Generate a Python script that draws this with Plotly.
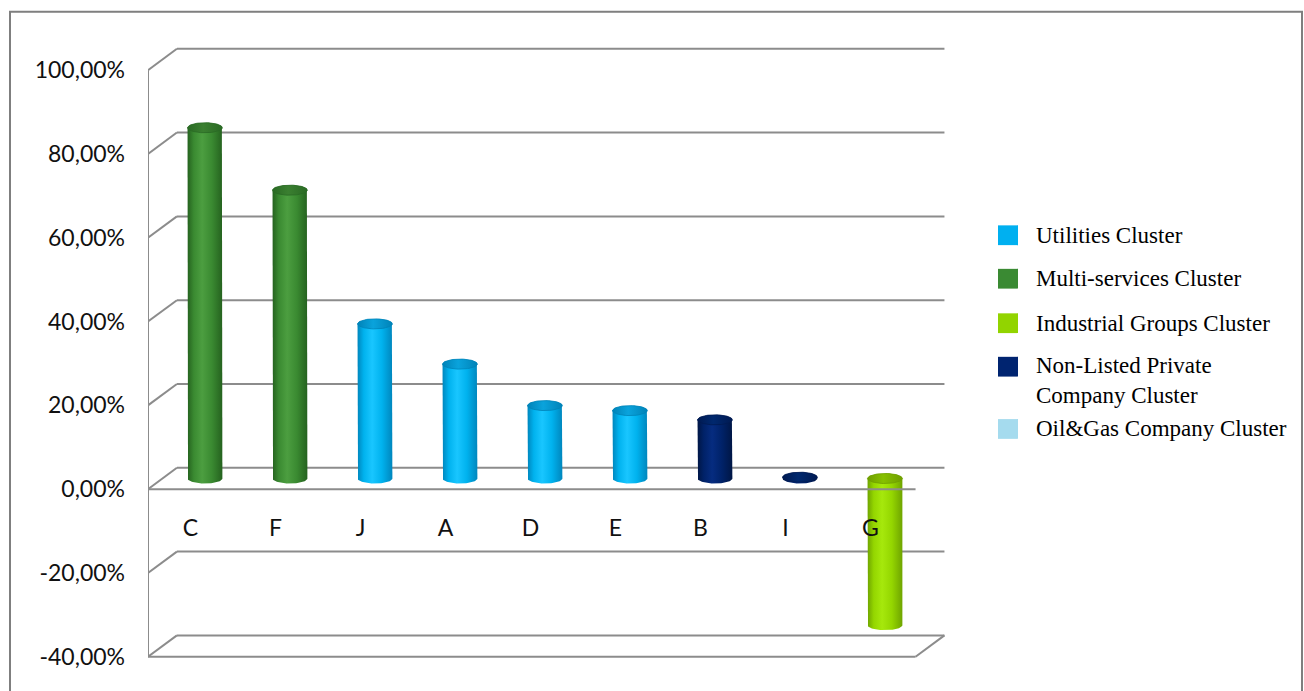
import numpy as np
import plotly.graph_objects as go

# ---- data -------------------------------------------------------------
categories = ["C", "F", "J", "A", "D", "E", "B", "I", "G"]
values = [83.7, 68.8, 36.9, 27.3, 17.4, 16.2, 14.0, 0.3, -35.0]
category_cluster = ["multi", "multi", "util", "util", "util", "util", "nonlisted", "nonlisted", "industrial"]

cluster_keys = ["util", "multi", "industrial", "nonlisted", "oilgas"]
cluster_labels = ["Utilities Cluster", "Multi-services Cluster", "Industrial Groups Cluster",
                  "Non-Listed Private<br>Company Cluster", "Oil&Gas Company Cluster"]
y_ticks = [-40, -20, 0, 20, 40, 60, 80, 100]
y_tick_text = ["-40,00%", "-20,00%", "0,00%", "20,00%", "40,00%", "60,00%", "80,00%", "100,00%"]

# ---- styling ----------------------------------------------------------
# (legend swatch, body edge, body mid, body highlight, top edge, top centre)
palette = {
    "util":       ("#00b0f0", "#0086bd", "#00b2ee", "#19c6ff", "#0083b8", "#0aa3dc"),
    "multi":      ("#3a8a33", "#25621f", "#3a8a31", "#4c9e40", "#2a6a24", "#3a7f30"),
    "industrial": ("#92d400", "#6fa400", "#94d600", "#a6e80c", "#6f9e00", "#86c000"),
    "nonlisted":  ("#002470", "#001645", "#002268", "#062c80", "#001a52", "#00286e"),
    "oilgas":     ("#a5dbee", "#7fb9d0", "#a5dbee", "#b8e6f5", "#7fb9d0", "#9cd2e6"),
}

W, H = 1304, 691
PLOT_L, PLOT_R, PLOT_T, PLOT_B = 148, 960, 40, 670
PX_PER_CAT = 85.0
x_range = [-0.5, -0.5 + (PLOT_R - PLOT_L) / PX_PER_CAT]
y_range = [-41.3, 107.3]

DEPTH_X, DEPTH_Y = 0.34, 5.1          # back wall offset (category units, % units)
FLOOR_L, FLOOR_R = -0.5, 8.53          # front edge of the floor
BAR_RX, BAR_RY = 0.205, 1.2           # cylinder radius / ellipse half-height

GRID = "#8c8c8c"
AXIS_FONT = dict(family="Lato, 'Open Sans', sans-serif", size=23, color="#111111")

fig = go.Figure()

# ---- cylinders (drawn in the mid-depth plane on x2/y2) ----------------
t = np.linspace(0, np.pi, 40)
for i, (v, key) in enumerate(zip(values, category_cluster)):
    _, edge, mid, hi, top_edge, top_mid = palette[key]
    y_top, y_bot = max(v, 0.0), min(v, 0.0)
    # body: left side down, front half of the bottom rim, right side up, back half of the top rim
    bx = np.concatenate([[i - BAR_RX], i - BAR_RX * np.cos(t), [i + BAR_RX], i + BAR_RX * np.cos(t)])
    by = np.concatenate([[y_top], y_bot - BAR_RY * np.sin(t), [y_top], y_top + BAR_RY * np.sin(t)])
    fig.add_trace(go.Scatter(
        x=bx, y=by, xaxis="x2", yaxis="y2", mode="lines", line=dict(width=0),
        fill="toself",
        fillgradient=dict(type="horizontal",
                          colorscale=[[0, edge], [0.18, mid], [0.42, hi], [0.7, mid], [1, edge]]),
        hoverinfo="skip", showlegend=False))
    # top face
    tt = np.linspace(0, 2 * np.pi, 80)
    fig.add_trace(go.Scatter(
        x=i + BAR_RX * np.cos(tt), y=y_top + BAR_RY * np.sin(tt), xaxis="x2", yaxis="y2",
        mode="lines", line=dict(width=0.8, color=top_edge), fill="toself",
        fillgradient=dict(type="horizontal",
                          colorscale=[[0, top_edge], [0.45, top_mid], [1, top_edge]]),
        hoverinfo="skip", showlegend=False))

# ---- walls and gridlines ----------------------------------------------
shapes = []
def seg(x0, y0, x1, y1, layer="below"):
    shapes.append(dict(type="line", xref="x", yref="y", x0=x0, y0=y0, x1=x1, y1=y1,
                       layer=layer, line=dict(color=GRID, width=2)))

for tv in y_ticks:
    seg(FLOOR_L + DEPTH_X, tv + DEPTH_Y, FLOOR_R + DEPTH_X, tv + DEPTH_Y)   # back wall
    seg(FLOOR_L, tv, FLOOR_L + DEPTH_X, tv + DEPTH_Y)                       # side wall
seg(FLOOR_L, y_ticks[0], FLOOR_L, y_ticks[-1])                              # value axis
seg(FLOOR_L, y_ticks[0], FLOOR_R, y_ticks[0], "above")                      # bottom front edge
seg(FLOOR_R, y_ticks[0], FLOOR_R + DEPTH_X, y_ticks[0] + DEPTH_Y, "above")
seg(FLOOR_L, 0, FLOOR_R, 0, "above")                                        # floor front edge

# chart frame
shapes.append(dict(type="rect", xref="paper", yref="paper",
                   x0=10 / W, x1=1302 / W, y0=-0.05, y1=1 - 12 / H,
                   line=dict(color="#7f7f7f", width=2), layer="below"))

# ---- legend -----------------------------------------------------------
annotations = []
legend_rows = [238, 282, 327, 385, 434]
swatch_rows = [238, 282, 327, 371, 434]
for key, label, ty, sy in zip(cluster_keys, cluster_labels, legend_rows, swatch_rows):
    shapes.append(dict(type="rect", xref="paper", yref="paper",
                       x0=998 / W, x1=1018 / W, y0=1 - (sy + 10) / H, y1=1 - (sy - 10) / H,
                       fillcolor=palette[key][0], line=dict(width=0), layer="above"))
    annotations.append(dict(xref="paper", yref="paper", x=1034 / W, y=1 - ty / H,
                            xanchor="left", yanchor="middle", align="left", showarrow=False,
                            text=label,
                            font=dict(family="Liberation Serif, 'Times New Roman', serif",
                                      size=23, color="#000000")))

# ---- axes -------------------------------------------------------------
dom_x = [PLOT_L / W, PLOT_R / W]
dom_y = [1 - PLOT_B / H, 1 - PLOT_T / H]
zero_paper = dom_y[0] + (0 - y_range[0]) / (y_range[1] - y_range[0]) * (dom_y[1] - dom_y[0])

fig.update_layout(
    width=W, height=H, margin=dict(l=0, r=0, t=0, b=0),
    paper_bgcolor="white", plot_bgcolor="white",
    showlegend=False,
    shapes=shapes, annotations=annotations,
    xaxis=dict(domain=dom_x, range=x_range, anchor="free", position=zero_paper,
               tickmode="array", tickvals=list(range(len(categories))), ticktext=categories,
               showgrid=False, zeroline=False, showline=False, ticks="",
               ticklabelstandoff=23, tickfont=AXIS_FONT),
    yaxis=dict(domain=dom_y, range=y_range, tickmode="array", tickvals=y_ticks,
               ticktext=y_tick_text, showgrid=False, zeroline=False,
               showline=False, ticks="", ticklabelstandoff=22, tickfont=AXIS_FONT),
    xaxis2=dict(overlaying="x", anchor="y2", visible=False,
                range=[x_range[0] - DEPTH_X / 2, x_range[1] - DEPTH_X / 2]),
    yaxis2=dict(overlaying="y", anchor="x2", visible=False,
                range=[y_range[0] - DEPTH_Y / 2, y_range[1] - DEPTH_Y / 2]),
)

fig.write_html("out.html")
